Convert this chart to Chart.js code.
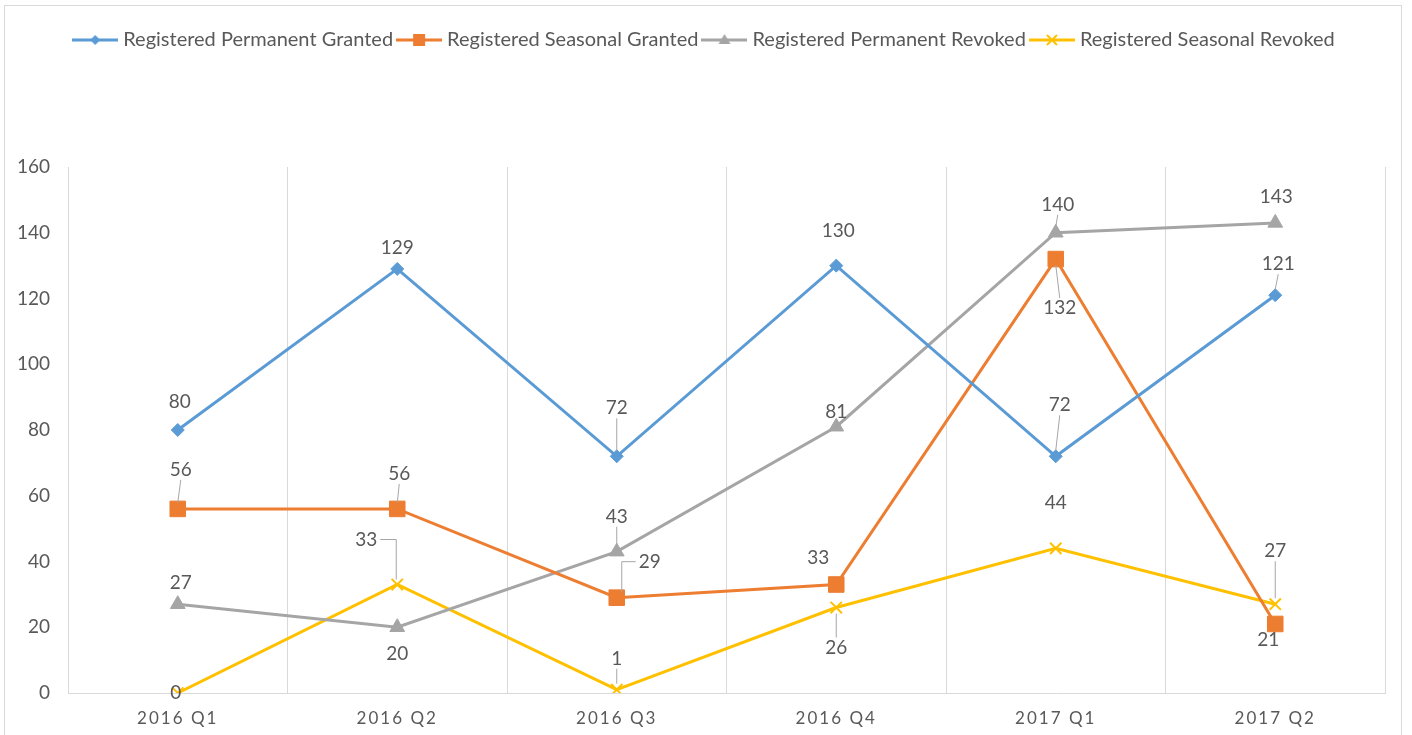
<!DOCTYPE html>
<html>
<head>
<meta charset="utf-8">
<script src="https://cdn.jsdelivr.net/npm/chart.js@4.4.0/dist/chart.umd.min.js"></script>
<style>
  html, body { margin: 0; padding: 0; background: #fff; }
  #frame { position: absolute; left: 4px; top: 5px; width: 1398px; height: 760px; border: 1px solid #d9d9d9; box-sizing: border-box; }
  #box { position: absolute; left: 0; top: 0; width: 1412px; height: 735px; }
</style>
</head>
<body>
<div id="frame"></div>
<div id="box"><canvas id="chart"></canvas></div>
<script>
const quarters = ["2016 Q1", "2016 Q2", "2016 Q3", "2016 Q4", "2017 Q1", "2017 Q2"];
const permGranted = [80, 129, 72, 130, 72, 121];
const seasGranted = [56, 56, 29, 33, 132, 21];
const permRevoked = [27, 20, 43, 81, 140, 143];
const seasRevoked = [0, 33, 1, 26, 44, 27];

const TEXT = "#595959";
const FONT = "Lato, 'Open Sans', sans-serif";

// where each value label sits relative to its point: [dx, dy, leader]
const labelSpots = [
  [[2, -28, ""], [0, -21, ""], [0, -48, "l"], [2, -35, ""], [4, -51, "l"], [3, -31, "l"]],
  [[3, -39, "l"], [2, -35, "l"], [33, -36, "e"], [-18, -27, ""], [4, 49, "l"], [-7, 16, ""]],
  [[3, -21, ""], [0, 27, ""], [0, -35, "l"], [0, -15, ""], [2, -28, "l"], [1, -26, ""]],
  [[-2, 0, ""], [-31, -45, "e"], [0, -31, "l"], [0, 40, "l"], [0, -45, ""], [0, -53, "l"]],
];

const makeSymbol = (color, kind) => {
  const c = document.createElement("canvas");
  c.width = 46;
  c.height = 16;
  const ctx = c.getContext("2d");
  const m = 23;
  ctx.strokeStyle = color;
  ctx.fillStyle = color;
  ctx.lineWidth = 3;
  ctx.beginPath();
  ctx.moveTo(0, 8);
  ctx.lineTo(46, 8);
  ctx.stroke();
  ctx.beginPath();
  if (kind === "diamond") {
    ctx.moveTo(m, 3); ctx.lineTo(m + 5, 8); ctx.lineTo(m, 13); ctx.lineTo(m - 5, 8);
    ctx.closePath(); ctx.fill();
  } else if (kind === "square") {
    ctx.rect(m - 6, 2, 12, 12); ctx.fill();
  } else if (kind === "triangle") {
    ctx.moveTo(m, 2); ctx.lineTo(m + 6, 12); ctx.lineTo(m - 6, 12);
    ctx.closePath(); ctx.fill();
  } else {
    ctx.lineWidth = 2;
    ctx.moveTo(m - 5, 3); ctx.lineTo(m + 5, 13);
    ctx.moveTo(m + 5, 3); ctx.lineTo(m - 5, 13);
    ctx.stroke();
  }
  return c;
};

const series = [
  { label: "Registered Permanent Granted", data: permGranted, color: "#5B9BD5", style: "rectRot", radius: 6.5, sym: "diamond" },
  { label: "Registered Seasonal Granted", data: seasGranted, color: "#ED7D31", style: "rect", radius: 11, sym: "square" },
  { label: "Registered Permanent Revoked", data: permRevoked, color: "#A5A5A5", style: "triangle", radius: 8.5, sym: "triangle" },
  { label: "Registered Seasonal Revoked", data: seasRevoked, color: "#FFC000", style: "crossRot", radius: 8, sym: "cross" },
];

const symbols = series.map((s) => makeSymbol(s.color, s.sym));

const legendSpace = {
  id: "legendSpace",
  beforeInit(chart) {
    const fit = chart.legend.fit;
    chart.legend.fit = function () {
      fit.call(this);
      this.height = 145;
    };
  },
};

const valueLabels = {
  id: "valueLabels",
  afterDatasetsDraw(chart) {
    const ctx = chart.ctx;
    ctx.save();
    ctx.font = "19px " + FONT;
    ctx.textAlign = "center";
    ctx.textBaseline = "middle";
    chart.data.datasets.forEach((ds, di) => {
      const meta = chart.getDatasetMeta(di);
      meta.data.forEach((pt, i) => {
        const [dx, dy, leader] = labelSpots[di][i];
        const lx = pt.x + dx;
        const ly = pt.y + dy;
        const text = String(ds.data[i]);
        const half = ctx.measureText(text).width / 2;
        ctx.strokeStyle = "#A6A6A6";
        ctx.lineWidth = 1;
        if (leader === "l") {
          ctx.beginPath();
          if (dy < 0) {
            ctx.moveTo(lx, ly + 10);
            ctx.lineTo(pt.x, pt.y - 6);
          } else {
            ctx.moveTo(lx, ly - 10);
            ctx.lineTo(pt.x, pt.y + 6);
          }
          ctx.stroke();
        } else if (leader === "e") {
          const sx = dx > 0 ? lx - half - 3 : lx + half + 3;
          const ex = dx > 0 ? pt.x + 5 : pt.x - 1;
          ctx.beginPath();
          ctx.moveTo(sx, ly);
          ctx.lineTo(ex, ly);
          ctx.lineTo(ex, pt.y - 5);
          ctx.stroke();
        }
        ctx.fillStyle = TEXT;
        ctx.fillText(text, lx, ly);
      });
    });
    ctx.restore();
    // x tick labels are drawn after this (ticks.z = 1), spaced out like the original
    ctx.letterSpacing = "2px";
  },
  afterDraw(chart) {
    chart.ctx.letterSpacing = "0px";
  },
};

new Chart(document.getElementById("chart").getContext("2d"), {
  type: "line",
  data: {
    labels: quarters,
    datasets: series.map((s) => ({
      label: s.label,
      data: s.data,
      borderColor: s.color,
      backgroundColor: s.color,
      borderWidth: 3,
      tension: 0,
      fill: false,
      pointStyle: s.style,
      pointRadius: s.radius,
      pointHoverRadius: s.radius,
      pointBackgroundColor: s.color,
      pointBorderColor: s.color,
      pointBorderWidth: s.style === "crossRot" ? 2 : 1,
    })),
  },
  options: {
    responsive: true,
    maintainAspectRatio: false,
    animation: false,
    events: [],
    layout: { padding: { left: 0, right: 0, top: 22, bottom: 0 } },
    plugins: {
      tooltip: { enabled: false },
      legend: {
        position: "top",
        labels: {
          usePointStyle: true,
          pointStyleWidth: 36,
          padding: 8,
          color: TEXT,
          font: { family: FONT, size: 20 },
          generateLabels: (chart) =>
            chart.data.datasets.map((ds, i) => ({
              text: ds.label,
              pointStyle: symbols[i],
              fillStyle: ds.borderColor,
              strokeStyle: ds.borderColor,
              lineWidth: 0,
              fontColor: TEXT,
              hidden: false,
              datasetIndex: i,
            })),
        },
      },
    },
    scales: {
      x: {
        offset: true,
        grid: { offset: true, color: "#D9D9D9", lineWidth: 1, drawTicks: false },
        border: { display: true, color: "#D9D9D9" },
        ticks: { color: TEXT, font: { family: FONT, size: 17 }, padding: 15, z: 1, maxRotation: 0 },
        afterFit: (scale) => { scale.height = 42; },
      },
      y: {
        min: 0,
        max: 160,
        grid: { display: false, drawTicks: false },
        border: { display: false },
        ticks: { stepSize: 20, color: TEXT, font: { family: FONT, size: 19 }, padding: 18 },
        afterFit: (scale) => { scale.width = 68; },
      },
      // empty right-hand strip so the plot ends where the original's does
      yRight: {
        position: "right",
        min: 0,
        max: 160,
        grid: { display: false, drawTicks: false },
        border: { display: false },
        ticks: { display: false },
        afterFit: (scale) => { scale.width = 27; },
      },
    },
  },
  plugins: [legendSpace, valueLabels],
});
</script>
</body>
</html>
